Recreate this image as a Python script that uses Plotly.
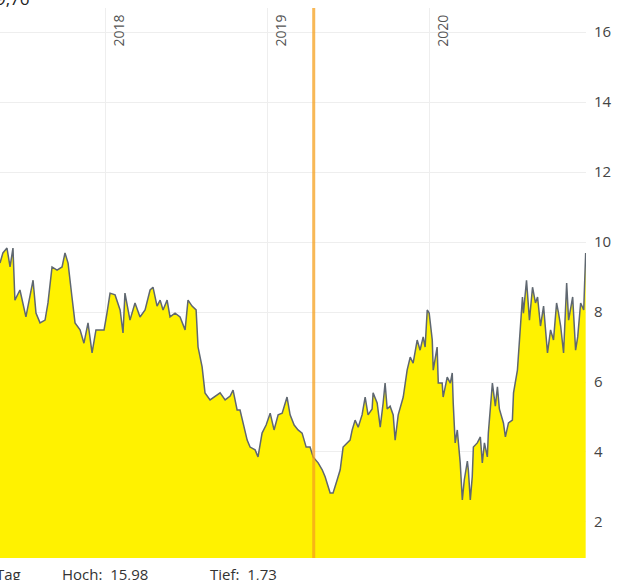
import plotly.graph_objects as go
import pandas as pd

# time in decimal years, price values
t_year = [
    2017.352, 2017.370, 2017.395, 2017.414, 2017.432, 2017.444, 2017.475, 2017.512, 2017.556, 2017.574,
    2017.599, 2017.630, 2017.648, 2017.673, 2017.704, 2017.735, 2017.753, 2017.772, 2017.796, 2017.815,
    2017.846, 2017.870, 2017.895, 2017.920, 2017.944, 2017.969, 2017.994, 2018.012, 2018.031, 2018.062,
    2018.093, 2018.111, 2018.123, 2018.154, 2018.185, 2018.216, 2018.247, 2018.278, 2018.296, 2018.321,
    2018.340, 2018.358, 2018.383, 2018.401, 2018.432, 2018.463, 2018.494, 2018.512, 2018.537, 2018.562,
    2018.574, 2018.599, 2018.617, 2018.648, 2018.679, 2018.710, 2018.741, 2018.772, 2018.790, 2018.815,
    2018.833, 2018.852, 2018.877, 2018.895, 2018.926, 2018.944, 2018.969, 2018.994, 2019.019, 2019.043,
    2019.068, 2019.093, 2019.123, 2019.142, 2019.167, 2019.191, 2019.216, 2019.241, 2019.265, 2019.284,
    2019.315, 2019.340, 2019.358, 2019.389, 2019.407, 2019.432, 2019.451, 2019.469, 2019.494, 2019.512,
    2019.525, 2019.543, 2019.562, 2019.586, 2019.605, 2019.623, 2019.648, 2019.654, 2019.679, 2019.698,
    2019.716, 2019.728, 2019.741, 2019.759, 2019.778, 2019.790, 2019.809, 2019.840, 2019.864, 2019.883,
    2019.901, 2019.926, 2019.944, 2019.963, 2019.975, 2019.988, 2020.000, 2020.019, 2020.025, 2020.049,
    2020.056, 2020.080, 2020.086, 2020.111, 2020.130, 2020.142, 2020.148, 2020.160, 2020.173, 2020.191,
    2020.204, 2020.216, 2020.235, 2020.241, 2020.253, 2020.265, 2020.272, 2020.296, 2020.315, 2020.327,
    2020.340, 2020.358, 2020.364, 2020.389, 2020.407, 2020.420, 2020.432, 2020.457, 2020.469, 2020.488,
    2020.512, 2020.519, 2020.543, 2020.562, 2020.574, 2020.580, 2020.599, 2020.617, 2020.636, 2020.654,
    2020.667, 2020.685, 2020.704, 2020.728, 2020.747, 2020.765, 2020.784, 2020.796, 2020.809, 2020.827,
    2020.846, 2020.858, 2020.883, 2020.901, 2020.914, 2020.932, 2020.951, 2020.963,
]
price = [
    9.40, 9.69, 9.83, 9.29, 9.83, 8.34, 8.63, 7.86, 8.91, 7.97,
    7.69, 7.77, 8.26, 9.29, 9.20, 9.29, 9.69, 9.40, 8.43, 7.69,
    7.49, 7.11, 7.69, 6.83, 7.49, 7.49, 7.49, 7.97, 8.54, 8.49,
    8.06, 7.40, 8.54, 7.77, 8.26, 7.86, 8.06, 8.63, 8.71, 8.17,
    8.34, 8.06, 8.34, 7.86, 7.97, 7.86, 7.49, 8.34, 8.17, 8.06,
    7.00, 6.43, 5.69, 5.49, 5.60, 5.69, 5.49, 5.60, 5.77, 5.20,
    5.20, 4.83, 4.34, 4.14, 4.06, 3.86, 4.54, 4.77, 5.11, 4.63,
    5.06, 5.11, 5.57, 5.06, 4.77, 4.63, 4.54, 4.14, 4.14, 3.86,
    3.69, 3.49, 3.29, 2.83, 2.83, 3.20, 3.49, 4.14, 4.26, 4.34,
    4.63, 4.91, 4.71, 5.06, 5.57, 5.06, 5.23, 5.69, 5.40, 4.71,
    5.40, 5.97, 5.23, 5.31, 5.06, 4.34, 5.06, 5.57, 6.34, 6.71,
    6.54, 7.20, 6.91, 7.29, 7.00, 8.06, 7.97, 7.20, 6.34, 7.00,
    5.97, 5.97, 5.57, 6.14, 5.97, 6.26, 5.40, 4.26, 4.63, 3.69,
    2.63, 3.20, 3.74, 3.49, 2.63, 3.29, 4.14, 4.26, 4.43, 3.69,
    4.26, 3.86, 4.54, 5.97, 5.31, 5.86, 5.23, 4.83, 4.43, 4.83,
    4.91, 5.69, 6.34, 7.77, 8.43, 7.97, 8.91, 7.77, 8.71, 8.26,
    8.43, 7.60, 8.17, 6.83, 7.49, 7.20, 8.26, 7.97, 7.60, 6.83,
    8.83, 7.77, 8.43, 6.91, 7.29, 8.26, 8.06, 9.69,
]

year_labels = ["2018", "2019", "2020"]
y_ticks = [2, 4, 6, 8, 10, 12, 14, 16]
event_date = "2019-04-16"
header_text = "9,76"
footer_items = [("Tag", 0.0), ("Hoch:  15,98", 0.102), ("Tief:  1,73", 0.355)]


def to_date(ty):
    y = int(ty)
    start = pd.Timestamp(year=y, month=1, day=1)
    end = pd.Timestamp(year=y + 1, month=1, day=1)
    return start + (end - start) * (ty - y)


dates = [to_date(t) for t in t_year]
x_start = to_date(2017.352)
x_end = to_date(2020.965)

fig = go.Figure()
fig.add_trace(go.Scatter(
    x=dates, y=price, mode="lines", fill="tozeroy",
    fillcolor="#fff200", line=dict(color="#5f6770", width=1.5),
    hoverinfo="skip", showlegend=False,
))

fig.add_shape(type="line", xref="x", yref="paper", x0=event_date, x1=event_date,
              y0=0, y1=1, line=dict(color="rgba(245,160,30,0.75)", width=3))

annotations = []
for lab in year_labels:
    annotations.append(dict(
        x=f"{lab}-01-01", xref="x", y=1, yref="paper", text=lab, showarrow=False,
        textangle=-90, xanchor="left", yanchor="top", xshift=1, yshift=-5,
        font=dict(family="Open Sans", size=14, color="#555555"),
    ))
annotations.append(dict(
    x=0, xref="paper", y=1, yref="paper", text=header_text, showarrow=False,
    xanchor="left", yanchor="bottom", yshift=-4, xshift=-6,
    font=dict(family="Open Sans", size=17, color="#222222"),
))
for txt, px in footer_items:
    annotations.append(dict(
        x=px, xref="paper", y=0, yref="paper", text=txt, showarrow=False,
        xanchor="left", yanchor="top", yshift=-4, xshift=-6 if px == 0 else 0,
        font=dict(family="Open Sans", size=15, color="#333333"),
    ))

fig.update_layout(
    width=626, height=580,
    margin=dict(l=0, r=40, t=8, b=22),
    plot_bgcolor="white", paper_bgcolor="white",
    font=dict(family="Open Sans", color="#444444"),
    annotations=annotations,
    xaxis=dict(range=[x_start, x_end], showgrid=True, gridcolor="#eeeeee",
               tickvals=[f"{y}-01-01" for y in year_labels], showticklabels=False,
               zeroline=False, showline=False),
    yaxis=dict(side="right", range=[0.97, 16.69], tickvals=y_ticks,
               gridcolor="#eeeeee", zeroline=False, showline=False,
               ticks="", ticklabelstandoff=7,
               tickfont=dict(family="Open Sans", size=15, color="#444444")),
)

fig.write_html("out.html", config={"displayModeBar": False})

# remove the default page margin so the figure sits at the window's top-left corner
with open("out.html", "r", encoding="utf-8") as f:
    html = f.read()
html = html.replace("<head>", "<head><style>html,body{margin:0;padding:0;overflow:hidden;}</style>", 1)
with open("out.html", "w", encoding="utf-8") as f:
    f.write(html)
